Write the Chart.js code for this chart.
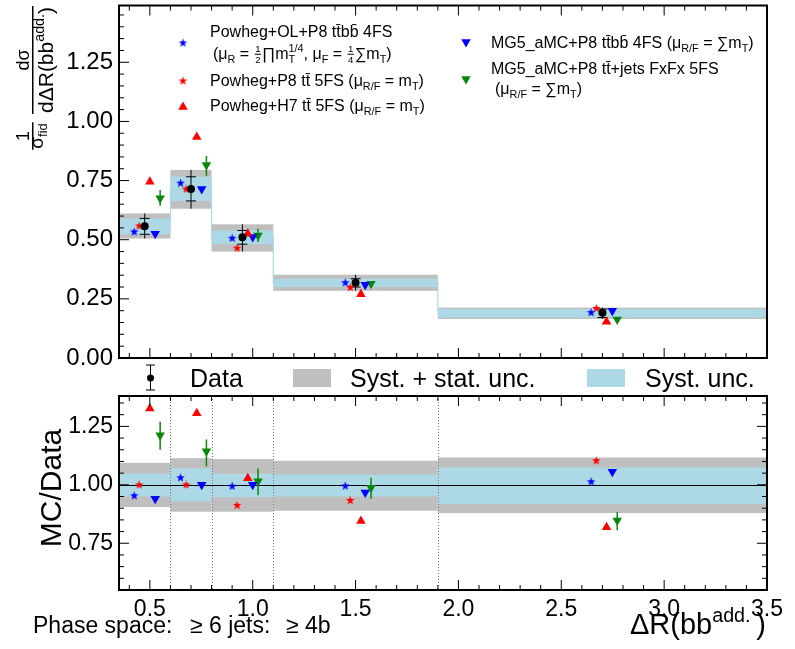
<!DOCTYPE html>
<html>
<head>
<meta charset="utf-8">
<script src="https://cdn.jsdelivr.net/npm/chart.js@4.4.1/dist/chart.umd.min.js"></script>
<style>
  html, body { margin: 0; padding: 0; background: #fff; }
  #wrap { position: relative; width: 795px; height: 649px; }
  #wrap canvas { position: absolute; left: 0; top: 0; }
</style>
</head>
<body>
<div id="wrap">
  <canvas id="main-chart" width="795" height="649"></canvas>
  <canvas id="ratio-chart" width="795" height="649"></canvas>
</div>
<script>
// bins of dR(bb add.)
const binEdges = [0.35, 0.6, 0.8, 1.1, 1.9, 3.5];

// data, normalised cross section
const dataX = [0.475, 0.70, 0.95, 1.50, 2.70];
const dataY = [0.557, 0.714, 0.510, 0.318, 0.191];
const totLo = [0.505, 0.631, 0.450, 0.284, 0.165];
const totHi = [0.611, 0.795, 0.565, 0.352, 0.213];
const systLo = [0.523, 0.664, 0.481, 0.300, 0.171];
const systHi = [0.590, 0.766, 0.539, 0.335, 0.207];

// ratio bands
const ratioTotLo = [0.905, 0.885, 0.885, 0.889, 0.879];
const ratioTotHi = [1.094, 1.114, 1.110, 1.103, 1.117];
const ratioSystLo = [0.950, 0.929, 0.947, 0.950, 0.917];
const ratioSystHi = [1.048, 1.071, 1.047, 1.044, 1.074];

// predictions
const powOLx = [0.424, 0.649, 0.900, 1.450, 2.645];
const powOLy = [0.533, 0.739, 0.506, 0.318, 0.192];
const powOLr = [0.953, 1.030, 0.994, 0.995, 1.013];

const powP8x = [0.448, 0.676, 0.924, 1.474, 2.670];
const powP8y = [0.558, 0.714, 0.464, 0.298, 0.210];
const powP8r = [1.000, 1.000, 0.912, 0.933, 1.103];

const powH7x = [0.500, 0.728, 0.976, 1.526, 2.720];
const powH7y = [0.745, 0.934, 0.525, 0.269, 0.153];
const powH7r = [1.327, 1.306, 1.028, 0.845, 0.818];

const mgBBx = [0.526, 0.752, 1.000, 1.547, 2.748];
const mgBBy = [0.525, 0.714, 0.511, 0.310, 0.200];
const mgBBr = [0.940, 1.000, 1.000, 0.967, 1.056];

const mgJetsX = [0.550, 0.775, 1.026, 1.575, 2.772];
const mgJetsY = [0.675, 0.816, 0.518, 0.314, 0.163];
const mgJetsLo = [0.644, 0.770, 0.490, 0.305, 0.158];
const mgJetsHi = [0.710, 0.854, 0.546, 0.322, 0.168];
const mgJetsR = [1.212, 1.144, 1.015, 0.987, 0.847];
const mgJetsRLo = [1.150, 1.079, 0.955, 0.940, 0.806];
const mgJetsRHi = [1.270, 1.194, 1.070, 1.030, 0.884];

// ticks
const xTicks = [0.5, 1.0, 1.5, 2.0, 2.5, 3.0, 3.5];
const topYTicks = [0, 0.25, 0.5, 0.75, 1.0, 1.25];
const ratioYTicks = [0.75, 1.0, 1.25];

const FONT = "'Liberation Sans', Arial, Helvetica, sans-serif";
const GRAY = '#bfbfbf';
const LBLUE = '#add8e6';
const BLUE = '#0000ff';
const RED = '#ff0000';
const GREEN = '#0a870a';

Chart.defaults.font.family = FONT;
Chart.defaults.color = '#000';

function starImg(color, r) {
  const c = document.createElement('canvas');
  const s = Math.ceil(r * 2) + 2;
  c.width = c.height = s;
  const g = c.getContext('2d');
  g.fillStyle = color;
  g.beginPath();
  for (let i = 0; i < 10; i++) {
    const rr = i % 2 ? r * 0.42 : r;
    const ang = -Math.PI / 2 + i * Math.PI / 5;
    g.lineTo(s / 2 + rr * Math.cos(ang), s / 2 + rr * Math.sin(ang));
  }
  g.closePath();
  g.fill();
  return c;
}
const blueStar = starImg(BLUE, 4.5);
const redStar = starImg(RED, 4.5);

function pts(xs, ys) {
  return xs.map((x, i) => ({ x, y: ys[i] }));
}

function triangle(ctx, x, y, r, down, color) {
  const s = down ? -1 : 1;
  ctx.fillStyle = color;
  ctx.beginPath();
  ctx.moveTo(x, y - s * r);
  ctx.lineTo(x + r * 0.866, y + s * r * 0.5);
  ctx.lineTo(x - r * 0.866, y + s * r * 0.5);
  ctx.closePath();
  ctx.fill();
}

// small rich text: [text, kind] kind = n | sub | sup | ss (sup over sub) | frac
function drawRich(ctx, x, y, parts, size, align) {
  const sm = size * 0.68;
  const widths = [];
  let w = 0;
  parts.forEach(([t, k]) => {
    let pw;
    if (k === 'sub' || k === 'sup') {
      ctx.font = sm + 'px ' + FONT;
      pw = ctx.measureText(t).width;
    } else if (k === 'ss' || k === 'frac') {
      ctx.font = (k === 'frac' ? size * 0.6 : sm) + 'px ' + FONT;
      pw = Math.max(ctx.measureText(t[0]).width, ctx.measureText(t[1]).width) + (k === 'frac' ? 3 : 0);
    } else {
      ctx.font = size + 'px ' + FONT;
      pw = ctx.measureText(t).width;
    }
    widths.push(pw);
    w += pw;
  });
  let cx = align === 'center' ? x - w / 2 : (align === 'right' ? x - w : x);
  ctx.textAlign = 'left';
  ctx.textBaseline = 'alphabetic';
  parts.forEach(([t, k], i) => {
    if (k === 'sub') {
      ctx.font = sm + 'px ' + FONT;
      ctx.fillText(t, cx, y + size * 0.22);
    } else if (k === 'sup') {
      ctx.font = sm + 'px ' + FONT;
      ctx.fillText(t, cx, y - size * 0.42);
    } else if (k === 'ss') {
      ctx.font = sm + 'px ' + FONT;
      ctx.fillText(t[0], cx, y - size * 0.42);
      ctx.fillText(t[1], cx, y + size * 0.22);
    } else if (k === 'frac') {
      const fs = size * 0.6;
      ctx.font = fs + 'px ' + FONT;
      const mid = cx + widths[i] / 2;
      ctx.fillText(t[0], mid - ctx.measureText(t[0]).width / 2, y - size * 0.42);
      ctx.fillText(t[1], mid - ctx.measureText(t[1]).width / 2, y + size * 0.22);
      ctx.fillRect(cx + 1, y - size * 0.33, widths[i] - 2, 1);
    } else {
      ctx.font = size + 'px ' + FONT;
      ctx.fillText(t, cx, y);
    }
    cx += widths[i];
  });
  return w;
}

// inward ROOT style ticks
function drawTicks(ctx, scale, a, side, step, major, majLen, minLen) {
  ctx.beginPath();
  const n0 = Math.ceil(scale.min / step - 1e-6);
  const n1 = Math.floor(scale.max / step + 1e-6);
  for (let n = n0; n <= n1; n++) {
    const v = n * step;
    const isMajor = Math.abs(v / major - Math.round(v / major)) < 1e-6;
    const len = isMajor ? majLen : minLen;
    const p = scale.getPixelForValue(v);
    if (side === 'left') { ctx.moveTo(a.left, p); ctx.lineTo(a.left + len, p); }
    if (side === 'right') { ctx.moveTo(a.right, p); ctx.lineTo(a.right - len, p); }
    if (side === 'bottom') { ctx.moveTo(p, a.bottom); ctx.lineTo(p, a.bottom - len); }
    if (side === 'top') { ctx.moveTo(p, a.top); ctx.lineTo(p, a.top + len); }
  }
  ctx.strokeStyle = '#000';
  ctx.lineWidth = 1;
  ctx.stroke();
}

function vbar(ctx, px, y0, y1, color, w) {
  ctx.strokeStyle = color;
  ctx.lineWidth = w;
  ctx.beginPath();
  ctx.moveTo(px, y0);
  ctx.lineTo(px, y1);
  ctx.stroke();
}

function fixAxis(width, height) {
  return s => {
    if (width !== null) s.width = width;
    if (height !== null) s.height = height;
    s.paddingTop = 0; s.paddingBottom = 0; s.paddingLeft = 0; s.paddingRight = 0;
  };
}

const mainDeco = {
  id: 'mainDeco',
  beforeDatasetsDraw(chart) {
    const { ctx, scales: { x, y } } = chart;
    ctx.save();
    for (let i = 0; i < dataY.length; i++) {
      const x0 = x.getPixelForValue(binEdges[i]);
      const x1 = x.getPixelForValue(binEdges[i + 1]);
      ctx.fillStyle = GRAY;
      ctx.fillRect(x0, y.getPixelForValue(totHi[i]), x1 - x0, y.getPixelForValue(totLo[i]) - y.getPixelForValue(totHi[i]));
      ctx.fillStyle = LBLUE;
      ctx.fillRect(x0, y.getPixelForValue(systHi[i]), x1 - x0, y.getPixelForValue(systLo[i]) - y.getPixelForValue(systHi[i]));
    }
    for (let i = 0; i < mgJetsX.length; i++) {
      vbar(ctx, x.getPixelForValue(mgJetsX[i]), y.getPixelForValue(mgJetsLo[i]), y.getPixelForValue(mgJetsHi[i]), GREEN, 1.5);
    }
    for (let i = 0; i < dataX.length; i++) {
      const px = x.getPixelForValue(dataX[i]);
      vbar(ctx, px, y.getPixelForValue(totLo[i]), y.getPixelForValue(totHi[i]), '#000', 1);
      ctx.beginPath();
      [systLo[i], systHi[i]].forEach(v => {
        const py = y.getPixelForValue(v);
        ctx.moveTo(px - 5, py); ctx.lineTo(px + 5, py);
      });
      ctx.stroke();
    }
    ctx.restore();
  },
  afterDraw(chart) {
    const { ctx, chartArea: a, scales: { x, y } } = chart;
    ctx.save();
    drawTicks(ctx, y, a, 'left', 0.05, 0.25, 10, 5);
    drawTicks(ctx, x, a, 'bottom', 0.1, 0.5, 10, 5);
    drawTicks(ctx, x, a, 'top', 0.1, 0.5, 10, 5);
    ctx.strokeStyle = '#000';
    ctx.lineWidth = 2;
    ctx.strokeRect(a.left, a.top, a.width, a.height);

    // legend
    ctx.fillStyle = '#000';
    ctx.drawImage(blueStar, 183 - blueStar.width / 2, 43 - blueStar.height / 2);
    drawRich(ctx, 210, 37, [['Powheg+OL+P8 tt\u0304bb\u0304 4FS', 'n']], 16);
    drawRich(ctx, 213, 59, [['(\u03bc', 'n'], ['R', 'sub'], [' = ', 'n'], [['1', '2'], 'frac'], ['\u220fm', 'n'],
      [['1/4', 'T'], 'ss'], [', \u03bc', 'n'], ['F', 'sub'], [' = ', 'n'], [['1', '4'], 'frac'], ['\u2211m', 'n'], ['T', 'sub'], [')', 'n']], 16);
    ctx.drawImage(redStar, 183 - redStar.width / 2, 81 - redStar.height / 2);
    ctx.fillStyle = '#000';
    drawRich(ctx, 210, 86, [['Powheg+P8 tt\u0304 5FS (\u03bc', 'n'], ['R/F', 'sub'], [' = m', 'n'], ['T', 'sub'], [')', 'n']], 16);
    triangle(ctx, 183, 107, 5.5, false, RED);
    ctx.fillStyle = '#000';
    drawRich(ctx, 210, 111, [['Powheg+H7 tt\u0304 5FS (\u03bc', 'n'], ['R/F', 'sub'], [' = m', 'n'], ['T', 'sub'], [')', 'n']], 16);
    triangle(ctx, 466, 42, 5.5, true, BLUE);
    ctx.fillStyle = '#000';
    drawRich(ctx, 491, 48, [['MG5_aMC+P8 tt\u0304bb\u0304 4FS (\u03bc', 'n'], ['R/F', 'sub'], [' = \u2211m', 'n'], ['T', 'sub'], [')', 'n']], 16);
    triangle(ctx, 466, 79, 5.5, true, GREEN);
    ctx.fillStyle = '#000';
    drawRich(ctx, 491, 74, [['MG5_aMC+P8 tt\u0304+jets FxFx 5FS', 'n']], 16);
    drawRich(ctx, 495, 94, [['(\u03bc', 'n'], ['R/F', 'sub'], [' = \u2211m', 'n'], ['T', 'sub'], [')', 'n']], 16);

    // y title
    ctx.rotate(-Math.PI / 2);
    drawRich(ctx, -136, 29, [['1', 'n']], 18, 'center');
    const w1 = drawRich(ctx, -136, 43, [['\u03c3', 'n'], ['fid', 'sub']], 19, 'center');
    ctx.fillRect(-136 - w1 / 2 - 1, 32, w1 + 2, 1.5);
    drawRich(ctx, -60, 29, [['d\u03c3', 'n']], 18, 'center');
    const w2 = drawRich(ctx, -60, 53, [['d\u0394R(bb', 'n'], ['add.', 'sup'], [')', 'n']], 21, 'center');
    ctx.fillRect(-60 - w2 / 2 - 1, 32, w2 + 2, 1.5);
    ctx.restore();
  }
};

const ratioDeco = {
  id: 'ratioDeco',
  beforeDatasetsDraw(chart) {
    const { ctx, chartArea: a, scales: { x, y } } = chart;
    ctx.save();
    for (let i = 0; i < ratioTotLo.length; i++) {
      const x0 = x.getPixelForValue(binEdges[i]);
      const x1 = x.getPixelForValue(binEdges[i + 1]);
      ctx.fillStyle = GRAY;
      ctx.fillRect(x0, y.getPixelForValue(ratioTotHi[i]), x1 - x0, y.getPixelForValue(ratioTotLo[i]) - y.getPixelForValue(ratioTotHi[i]));
      ctx.fillStyle = LBLUE;
      ctx.fillRect(x0, y.getPixelForValue(ratioSystHi[i]), x1 - x0, y.getPixelForValue(ratioSystLo[i]) - y.getPixelForValue(ratioSystHi[i]));
    }
    ctx.strokeStyle = '#777';
    ctx.lineWidth = 1;
    ctx.setLineDash([1, 2]);
    ctx.beginPath();
    binEdges.slice(1, -1).forEach(e => {
      const px = Math.round(x.getPixelForValue(e)) + 0.5;
      ctx.moveTo(px, a.top); ctx.lineTo(px, a.bottom);
    });
    ctx.stroke();
    ctx.setLineDash([]);
    const py = Math.round(y.getPixelForValue(1)) + 0.5;
    ctx.strokeStyle = '#000';
    ctx.beginPath();
    ctx.moveTo(a.left, py); ctx.lineTo(a.right, py);
    ctx.stroke();
    for (let i = 0; i < mgJetsX.length; i++) {
      vbar(ctx, x.getPixelForValue(mgJetsX[i]), y.getPixelForValue(mgJetsRLo[i]), y.getPixelForValue(mgJetsRHi[i]), GREEN, 1.5);
    }
    ctx.restore();
  },
  afterDraw(chart) {
    const { ctx, chartArea: a, scales: { x, y } } = chart;
    ctx.save();
    drawTicks(ctx, y, a, 'left', 0.05, 0.25, 10, 5);
    drawTicks(ctx, y, a, 'right', 0.05, 0.25, 10, 5);
    drawTicks(ctx, x, a, 'bottom', 0.1, 0.5, 10, 5);
    drawTicks(ctx, x, a, 'top', 0.1, 0.5, 10, 5);
    ctx.strokeStyle = '#000';
    ctx.lineWidth = 2;
    ctx.strokeRect(a.left, a.top, a.width, a.height);

    // legend between the panels
    ctx.lineWidth = 1;
    vbar(ctx, 150.5, 365, 390, '#000', 1);
    ctx.beginPath();
    ctx.moveTo(146, 365); ctx.lineTo(155, 365);
    ctx.moveTo(146, 390); ctx.lineTo(155, 390);
    ctx.stroke();
    ctx.fillStyle = '#000';
    ctx.beginPath(); ctx.arc(150.5, 378, 3.5, 0, Math.PI * 2); ctx.fill();
    drawRich(ctx, 190, 387, [['Data', 'n']], 25);
    ctx.fillStyle = GRAY; ctx.fillRect(293, 369, 38, 18);
    ctx.fillStyle = '#000';
    drawRich(ctx, 350, 387, [['Syst. + stat. unc.', 'n']], 25);
    ctx.fillStyle = LBLUE; ctx.fillRect(587, 369, 38, 18);
    ctx.fillStyle = '#000';
    drawRich(ctx, 645, 387, [['Syst. unc.', 'n']], 25);

    // titles
    drawRich(ctx, 33, 633, [['Phase space:', 'n']], 23);
    drawRich(ctx, 190, 633, [['\u2265 6 jets:', 'n']], 23);
    drawRich(ctx, 286, 633, [['\u2265 4b', 'n']], 23);
    drawRich(ctx, 766, 634, [['\u0394R(bb', 'n'], ['add.', 'sup'], ['\u2009)', 'n']], 29, 'right');
    ctx.rotate(-Math.PI / 2);
    drawRich(ctx, -488, 61, [['MC/Data', 'n']], 30, 'center');
    ctx.restore();
  }
};

function markerSets(ys) {
  return [
    { label: 'Powheg+OL+P8', data: pts(powOLx, ys[0]), pointStyle: blueStar, pointRadius: 4 },
    { label: 'Powheg+P8', data: pts(powP8x, ys[1]), pointStyle: redStar, pointRadius: 4 },
    { label: 'Powheg+H7', data: pts(powH7x, ys[2]), pointStyle: 'triangle', pointRadius: 5.5,
      pointBackgroundColor: RED, pointBorderColor: RED, pointBorderWidth: 0 },
    { label: 'MG5 ttbb', data: pts(mgBBx, ys[3]), pointStyle: 'triangle', pointRotation: 180, pointRadius: 5.5,
      pointBackgroundColor: BLUE, pointBorderColor: BLUE, pointBorderWidth: 0 },
    { label: 'MG5 tt+jets', data: pts(mgJetsX, ys[4]), pointStyle: 'triangle', pointRotation: 180, pointRadius: 5.5,
      pointBackgroundColor: GREEN, pointBorderColor: GREEN, pointBorderWidth: 0 }
  ];
}

const histVals = dataY.concat([dataY[dataY.length - 1]]);

new Chart(document.getElementById('main-chart'), {
  type: 'scatter',
  data: {
    datasets: [
      { label: 'Data', data: pts(dataX, dataY), pointStyle: 'circle', pointRadius: 4,
        pointBackgroundColor: '#000', pointBorderColor: '#000', pointBorderWidth: 0 },
      ...markerSets([powOLy, powP8y, powH7y, mgBBy, mgJetsY]),
      { type: 'line', label: 'hist', data: pts(binEdges, histVals), stepped: true,
        borderColor: LBLUE, borderWidth: 1.2, pointRadius: 0, fill: false }
    ]
  },
  options: {
    responsive: false,
    animation: false,
    events: [],
    layout: { padding: { left: 0, right: 28, top: 4, bottom: 291 } },
    plugins: { legend: { display: false }, tooltip: { enabled: false } },
    scales: {
      x: {
        type: 'linear', min: 0.35, max: 3.5,
        grid: { display: false, drawTicks: false }, border: { display: false },
        ticks: { display: false },
        afterFit: fixAxis(null, 0)
      },
      y: {
        min: 0, max: 1.49,
        afterBuildTicks: s => { s.ticks = topYTicks.map(v => ({ value: v })); },
        grid: { display: false, drawTicks: false }, border: { display: false },
        ticks: { callback: v => v.toFixed(2), font: { size: 24 }, padding: 6 },
        afterFit: fixAxis(119, null)
      }
    }
  },
  plugins: [mainDeco]
});

new Chart(document.getElementById('ratio-chart'), {
  type: 'scatter',
  data: {
    datasets: markerSets([powOLr, powP8r, powH7r, mgBBr, mgJetsR])
  },
  options: {
    responsive: false,
    animation: false,
    events: [],
    layout: { padding: { left: 0, right: 28, top: 396, bottom: 0 } },
    plugins: { legend: { display: false }, tooltip: { enabled: false } },
    scales: {
      x: {
        type: 'linear', min: 0.35, max: 3.5,
        afterBuildTicks: s => { s.ticks = xTicks.map(v => ({ value: v })); },
        grid: { display: false, drawTicks: false }, border: { display: false },
        ticks: { callback: v => v.toFixed(1), font: { size: 23 }, padding: 6, maxRotation: 0, autoSkip: false },
        afterFit: fixAxis(null, 59)
      },
      y: {
        min: 0.55, max: 1.38,
        afterBuildTicks: s => { s.ticks = ratioYTicks.map(v => ({ value: v })); },
        grid: { display: false, drawTicks: false }, border: { display: false },
        ticks: { callback: v => v.toFixed(2), font: { size: 23 }, padding: 6 },
        afterFit: fixAxis(119, null)
      }
    }
  },
  plugins: [ratioDeco]
});
</script>
</body>
</html>
